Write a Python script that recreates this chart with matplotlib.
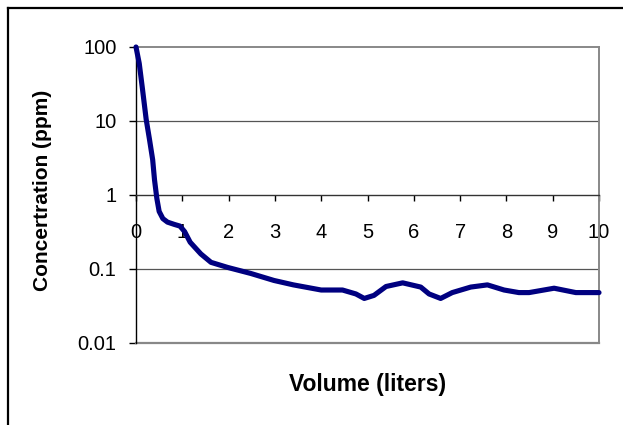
import matplotlib
matplotlib.use("Agg")
import matplotlib.pyplot as plt
from matplotlib.lines import Line2D
from matplotlib.ticker import FixedLocator, FixedFormatter

# ---- data ----
volume = [0, 0.07, 0.14, 0.22, 0.29, 0.36, 0.40, 0.45, 0.50, 0.58, 0.68, 0.83,
          0.95, 1.05, 1.17, 1.4, 1.62, 1.98, 2.48, 2.98, 3.4, 4.0, 4.46, 4.75, 4.93,
          5.14, 5.4, 5.76, 6.15, 6.33, 6.58, 6.83, 7.23, 7.59, 7.95, 8.27, 8.49,
          9.03, 9.5, 10]
concentration = [100, 60, 27, 10.5, 5.7, 3.0, 1.6, 0.9, 0.6, 0.48, 0.43, 0.40,
                 0.38, 0.32, 0.23, 0.16, 0.123, 0.105, 0.087, 0.070, 0.061, 0.052, 0.052,
                 0.046, 0.040, 0.044, 0.058, 0.065, 0.057, 0.046, 0.040, 0.048,
                 0.057, 0.061, 0.052, 0.048, 0.048, 0.055, 0.048, 0.048]
x_ticks = [0, 1, 2, 3, 4, 5, 6, 7, 8, 9, 10]
y_ticks = [0.01, 0.1, 1, 10, 100]
y_tick_labels = ["0.01", "0.1", "1", "10", "100"]
x_label = "Volume (liters)"
y_label = "Concertration (ppm)"

plt.rcParams['font.family'] = ['Liberation Sans', 'DejaVu Sans']

W, H = 623, 425
fig = plt.figure(figsize=(W / 100, H / 100), dpi=100)
fig.patch.set_facecolor('white')

L, R, T, B = 136, 599, 47, 343
ax = fig.add_axes([L / W, 1 - B / H, (R - L) / W, (B - T) / H])
ax.set_yscale('log')
ax.set_xlim(0, 10)
ax.set_ylim(0.01, 100)

# gridlines
for v in [0.1, 10]:
    ax.axhline(v, color='#555555', lw=0.9, zorder=1)

# frame
for s in ['top', 'right']:
    ax.spines[s].set_color('#888888')
    ax.spines[s].set_linewidth(1.4)
ax.spines['left'].set_color('black')
ax.spines['left'].set_linewidth(1.0)
ax.spines['bottom'].set_position(('data', 1))
ax.spines['bottom'].set_color('#333333')
ax.spines['bottom'].set_linewidth(1.0)
ax.axhline(0.01, color='#888888', lw=1.6, clip_on=False, zorder=2)

ax.plot(volume, concentration, color='#000080', lw=3.7,
        solid_capstyle='round', solid_joinstyle='round', zorder=3, clip_on=False)

ax.xaxis.set_major_locator(FixedLocator(x_ticks))
ax.set_xticklabels([str(t) for t in x_ticks])
ax.yaxis.set_major_locator(FixedLocator(y_ticks))
ax.yaxis.set_major_formatter(FixedFormatter(y_tick_labels))
ax.yaxis.set_minor_locator(FixedLocator([]))
ax.tick_params(axis='x', direction='out', length=4, width=1, color='black',
               labelsize=14.5, pad=16)
ax.tick_params(axis='y', direction='out', length=5, width=1, color='black',
               labelsize=14.5, pad=9)

# axis titles
fig.text(368 / W, 1 - 384 / H, x_label, ha='center', va='center',
         fontsize=16.5, fontweight='bold')
fig.text(43 / W, 1 - 190 / H, y_label, ha='center', va='center',
         rotation=90, fontsize=15, fontweight='bold')

# outer chart border (partially visible)
bx, by = 8 / W, 1 - 8 / H
fig.add_artist(Line2D([bx, 1.0], [by, by], transform=fig.transFigure,
                      color='black', lw=1.6))
fig.add_artist(Line2D([bx, bx], [0, by], transform=fig.transFigure,
                      color='black', lw=1.6))

fig.savefig('out.png', dpi=100)
